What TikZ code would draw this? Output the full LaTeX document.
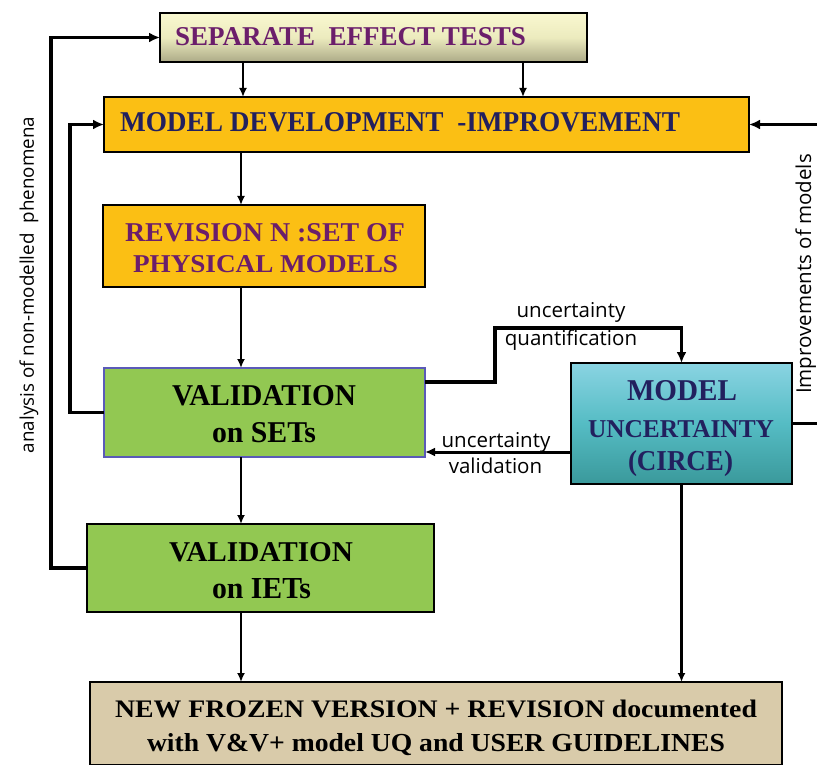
\documentclass[tikz,border=0pt]{standalone}
\usepackage{fontspec}
\setmainfont{Liberation Serif}
\newfontfamily\labfont{Open Sans}
\usepackage{graphicx}
\usetikzlibrary{arrows.meta}
\definecolor{setpurple}{HTML}{6B1E6B}
\definecolor{navytxt}{HTML}{22205E}
\definecolor{orangebox}{HTML}{FBBF14}
\definecolor{greenbox}{HTML}{92C852}
\definecolor{tanbox}{HTML}{D9CBAA}
\definecolor{bluebord}{HTML}{5A5AB8}
\definecolor{settop}{HTML}{F9F8D0}
\definecolor{setmid}{HTML}{ECEBBE}
\definecolor{setbot}{HTML}{ACAA87}
\definecolor{mutop}{HTML}{8AD4E2}
\definecolor{mumid}{HTML}{55BCC4}
\definecolor{mubot}{HTML}{3A999B}
\newcommand{\bt}[3]{\resizebox{#1pt}{#2pt}{\bfseries #3}}
\begin{document}
\begin{tikzpicture}[x=1pt,y=-1pt,
  boxst/.style={draw=black,line width=2pt,inner sep=0pt,outer sep=0pt},
  txt/.style={inner sep=0pt,outer sep=0pt,anchor=base west},
  labf/.style={font=\labfont\fontsize{20.5}{24}\selectfont},
  lab/.style={inner sep=0pt,outer sep=0pt,anchor=base,labf},
  rlab/.style={inner sep=0pt,outer sep=0pt,anchor=base,rotate=90,labf},
  thinarr/.style={line width=2.5pt,-{Latex[length=9pt,width=8pt]}},
  thickarr/.style={line width=3.6pt,-{Latex[length=11pt,width=10pt]}}]
\useasboundingbox (0,0) rectangle (817,765);
\clip (0,0) rectangle (817,765);
\fill[white] (0,0) rectangle (817,765);

% boxes
\node[boxst,minimum width=427pt,minimum height=49pt,top color=settop,bottom color=setbot,middle color=setmid] (SET) at (373.5,37.5) {};
\node[boxst,fill=orangebox,minimum width=645pt,minimum height=55pt] (MDI) at (426.5,124.5) {};
\node[boxst,fill=orangebox,minimum width=322pt,minimum height=82pt] (REV) at (264,246) {};
\node[draw=bluebord,line width=1.5pt,inner sep=0pt,outer sep=0pt,fill=greenbox,minimum width=321pt,minimum height=89pt] (VS) at (264.5,412.5) {};
\node[boxst,minimum width=221pt,minimum height=121pt,top color=mutop,bottom color=mubot,middle color=mumid] (MU) at (681.5,423.5) {};
\node[boxst,fill=greenbox,minimum width=347pt,minimum height=88pt] (VI) at (260.5,568) {};
\node[boxst,fill=tanbox,minimum width=692pt,minimum height=83pt] (BOT) at (436,723.5) {};

% box texts
\node[txt,text=setpurple] (tSET) at (175,46) {\bt{351}{18}{SEPARATE\ \ EFFECT TESTS}};
\node[txt,text=navytxt] (tMDI) at (120,132) {\bt{560}{19}{MODEL DEVELOPMENT\ \ -IMPROVEMENT}};
\node[txt,text=setpurple] (tREVa) at (125,241) {\bt{280}{18}{REVISION\ N :SET OF}};
\node[txt,text=setpurple] (tREVb) at (133,272) {\bt{265}{17}{PHYSICAL MODELS}};
\node[txt,text=black] (tVSa) at (172,405) {\bt{184}{20}{VALIDATION}};
\node[txt,text=black] (tVSb) at (212,442) {\bt{104}{20}{on SETs}};
\node[txt,text=black] (tVIa) at (169,561) {\bt{184}{19}{VALIDATION}};
\node[txt,text=black] (tVIb) at (212,598) {\bt{99}{20}{on IETs}};
\node[txt,text=navytxt] (tMUa) at (627,400) {\bt{110}{20}{MODEL}};
\node[txt,text=navytxt] (tMUb) at (588,437) {\bt{186}{17}{UNCERTAINTY}};
\node[txt,text=navytxt] (tMUc) at (628,470) {\bt{105}{20}{(CIRCE)}};
\node[txt,text=black] (tBOTa) at (115,717) {\bt{642}{17.5}{NEW FROZEN VERSION + REVISION\ documented}};
\node[txt,text=black] (tBOTb) at (147,751) {\bt{578}{18}{with V\&V+ model UQ and USER GUIDELINES}};

% helper coordinates
\coordinate (ca) at (243,0);
\coordinate (cb) at (523,0);
\coordinate (cc) at (241,0);
\coordinate (l1) at (70,0);
\coordinate (l2) at (51,0);
\coordinate (rr) at (830,0);
\coordinate (uqy) at (0,382);
\coordinate (uqa) at (495,328);
\coordinate (vy) at (0,452);

% vertical arrows
\draw[thinarr] (SET.south -| ca) -- (MDI.north -| ca);
\draw[thinarr] (SET.south -| cb) -- (MDI.north -| cb);
\draw[thinarr] (MDI.south -| cc) -- (REV.north -| cc);
\draw[thinarr] (REV.south -| cc) -- (VS.north -| cc);
\draw[thinarr] (VS.south -| cc) -- (VI.north -| cc);
\draw[thinarr] (VI.south -| cc) -- (BOT.north -| cc);
\draw[thinarr] (MU.south) -- (BOT.north -| MU.south);

% feedback loops
\draw[thickarr] (VS.west) -- (VS.west -| l1) -- (l1 |- MDI.west) -- (MDI.west);
\draw[thickarr] (VI.west) -- (VI.west -| l2) -- (l2 |- SET.west) -- (SET.west);
\draw[thickarr] (MU.east) -- (MU.east -| rr) -- (rr |- MDI.east) -- (MDI.east);

% uncertainty arrows
\draw[thickarr,line join=miter] (VS.east |- uqy) -- (uqa |- uqy) -- (uqa) -- (uqa -| MU.north) -- (MU.north);
\draw[line width=3pt,-{Latex[length=10pt,width=9pt]}] (MU.west |- vy) -- (VS.east |- vy);

% labels
\node[lab] (lq1) at (571,317) {uncertainty};
\node[lab] (lq2) at (571,345) {quantification};
\node[lab] (lv1) at (496,447) {uncertainty};
\node[lab] (lv2) at (495.5,473) {validation};
\node[rlab,font=\labfont\fontsize{18.8}{22}\selectfont] (lan) at (34,285) {analysis of non-modelled\ \ phenomena};
\node[rlab] (lim) at (811,274) {Improvements of models};
\end{tikzpicture}
\end{document}
